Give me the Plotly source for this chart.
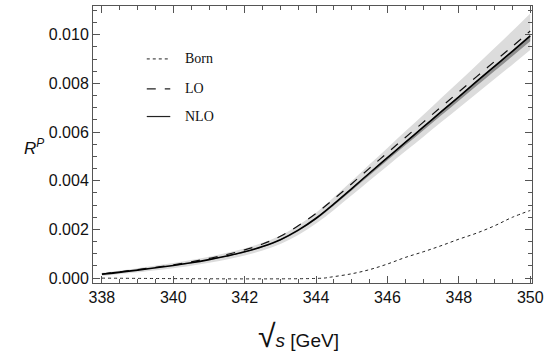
import plotly.graph_objects as go

# ---- data ----
x_grid = [338, 339, 340, 340.5, 341, 341.5, 342, 342.5, 343, 343.5, 344, 344.5, 345, 345.5,
          346, 346.5, 347, 347.5, 348, 348.5, 349, 349.5, 350]
nlo = [0.00016, 0.00033, 0.00052, 0.00063, 0.00076, 0.00091, 0.00108, 0.00130, 0.00158, 0.00197,
       0.00246, 0.00305, 0.00368, 0.00432, 0.00495, 0.00558, 0.00620, 0.00683, 0.00745, 0.00808,
       0.00870, 0.00932, 0.00995]
lo = [0.00017, 0.00035, 0.00055, 0.00067, 0.00081, 0.00097, 0.00116, 0.00140, 0.00172, 0.00215,
      0.00266, 0.00325, 0.00388, 0.00452, 0.00515, 0.00578, 0.00640, 0.00703, 0.00765, 0.00828,
      0.00890, 0.00952, 0.01015]
band_light_hi = [0.00022, 0.00041, 0.00062, 0.00074, 0.00088, 0.00104, 0.00122, 0.00145, 0.00175, 0.00217,
                 0.00269, 0.00332, 0.00399, 0.00468, 0.00535, 0.00603, 0.00670, 0.00739, 0.00807, 0.00876,
                 0.00945, 0.01015, 0.01087]
band_light_lo = [0.00009, 0.00024, 0.00041, 0.00051, 0.00063, 0.00077, 0.00093, 0.00114, 0.00140, 0.00177,
                 0.00224, 0.00280, 0.00340, 0.00401, 0.00461, 0.00521, 0.00580, 0.00640, 0.00699, 0.00759,
                 0.00818, 0.00877, 0.00937]
band_dark_hi = [0.000161, 0.000332, 0.000523, 0.000633, 0.000764, 0.000915, 0.001085, 0.001306, 0.001588,
                0.00198, 0.002472, 0.003065, 0.003698, 0.004342, 0.004975, 0.005608, 0.006231, 0.006864,
                0.007487, 0.00812, 0.008744, 0.009367, 0.0100]
band_dark_lo = [0.000156, 0.000323, 0.000509, 0.000616, 0.000743, 0.00089, 0.001056, 0.001271, 0.001545,
                0.001927, 0.002406, 0.002983, 0.003599, 0.004225, 0.004841, 0.005457, 0.006064, 0.00668,
                0.007286, 0.007902, 0.008509, 0.009115, 0.009731]

born_x = [338, 344.2, 344.4, 345, 345.5, 346, 346.5, 347, 347.5, 348, 348.5, 349, 349.5, 350]
born_y = [0, 0, 0.00004, 0.00018, 0.00035, 0.00058, 0.00085, 0.00108, 0.00133, 0.00160, 0.00185,
          0.00215, 0.00250, 0.00278]

x_ticks = [338, 340, 342, 344, 346, 348, 350]
y_ticks = [0.000, 0.002, 0.004, 0.006, 0.008, 0.010]
y_tick_labels = ["0.000", "0.002", "0.004", "0.006", "0.008", "0.010"]

legend_names = ["Born", "LO", "NLO"]
legend_dash = ["dot", "dash", "solid"]

fig = go.Figure()

# light band
fig.add_trace(go.Scatter(x=x_grid, y=band_light_lo, mode="lines", line=dict(width=0, shape="spline"),
                         showlegend=False, hoverinfo="skip"))
fig.add_trace(go.Scatter(x=x_grid, y=band_light_hi, mode="lines", line=dict(width=0, shape="spline"),
                         fill="tonexty", fillcolor="#dcdcdc", showlegend=False, hoverinfo="skip"))
# dark band
fig.add_trace(go.Scatter(x=x_grid, y=band_dark_lo, mode="lines", line=dict(width=0, shape="spline"),
                         showlegend=False, hoverinfo="skip"))
fig.add_trace(go.Scatter(x=x_grid, y=band_dark_hi, mode="lines", line=dict(width=0, shape="spline"),
                         fill="tonexty", fillcolor="#8f8f8f", showlegend=False, hoverinfo="skip"))

fig.add_trace(go.Scatter(x=born_x, y=born_y, mode="lines",
                         line=dict(color="#222", width=1, dash="dot", shape="spline"), showlegend=False))
fig.add_trace(go.Scatter(x=x_grid, y=lo, mode="lines",
                         line=dict(color="#111", width=1.2, dash="dash", shape="spline"), showlegend=False))
fig.add_trace(go.Scatter(x=x_grid, y=nlo, mode="lines",
                         line=dict(color="#000", width=1.6, shape="spline"), showlegend=False))

axis_common = dict(showgrid=False, zeroline=False, showline=True, linecolor="#555", linewidth=1,
                   mirror="ticks", ticks="inside", ticklen=7, tickcolor="#555", tickwidth=1,
                   ticklabeloverflow="allow",
                   tickfont=dict(family="Liberation Sans, Arial", size=16, color="#111"))

fig.update_layout(
    width=549, height=362,
    margin=dict(l=93, r=7, t=5, b=79),
    paper_bgcolor="white", plot_bgcolor="white",
    xaxis=dict(range=[337.75, 350.05], tickvals=x_ticks,
               minor=dict(dtick=0.5, ticks="inside", ticklen=4, tickcolor="#555"),
               **axis_common),
    yaxis=dict(range=[-0.0002, 0.01118], tickvals=y_ticks, ticktext=y_tick_labels,
               minor=dict(dtick=0.0005, ticks="inside", ticklen=4, tickcolor="#555"),
               **axis_common),
)

# manual legend
leg_y = [0.809, 0.701, 0.601]
for name, dash, yy in zip(legend_names, legend_dash, leg_y):
    fig.add_shape(type="line", xref="paper", yref="paper", x0=0.1225, x1=0.176, y0=yy, y1=yy,
                  line=dict(color="#222", width=1.2 if dash != "dot" else 1, dash=dash))
    fig.add_annotation(xref="paper", yref="paper", x=0.205, y=yy, text=name, showarrow=False,
                       xanchor="left", yanchor="middle",
                       font=dict(family="Liberation Serif, Times New Roman", size=14, color="#111"))

# axis titles
fig.add_annotation(xref="paper", yref="paper", x=-0.135, y=0.49, text="<i>R</i><sup><i>P</i></sup>",
                   showarrow=False, xanchor="center", yanchor="middle",
                   font=dict(family="Liberation Sans, Arial", size=17, color="#111"))
fig.add_annotation(xref="paper", yref="paper", x=0.468, y=-0.19,
                   text="<span style='font-size:32px'>√</span><span style='font-size:19px'><i>s</i> [GeV]</span>",
                   showarrow=False, xanchor="center", yanchor="middle",
                   font=dict(family="Liberation Sans, Arial", size=19, color="#111"))

fig.write_html("out.html", config={"displayModeBar": False},
               post_script="document.body.style.margin='0';document.body.style.overflow='hidden';")
